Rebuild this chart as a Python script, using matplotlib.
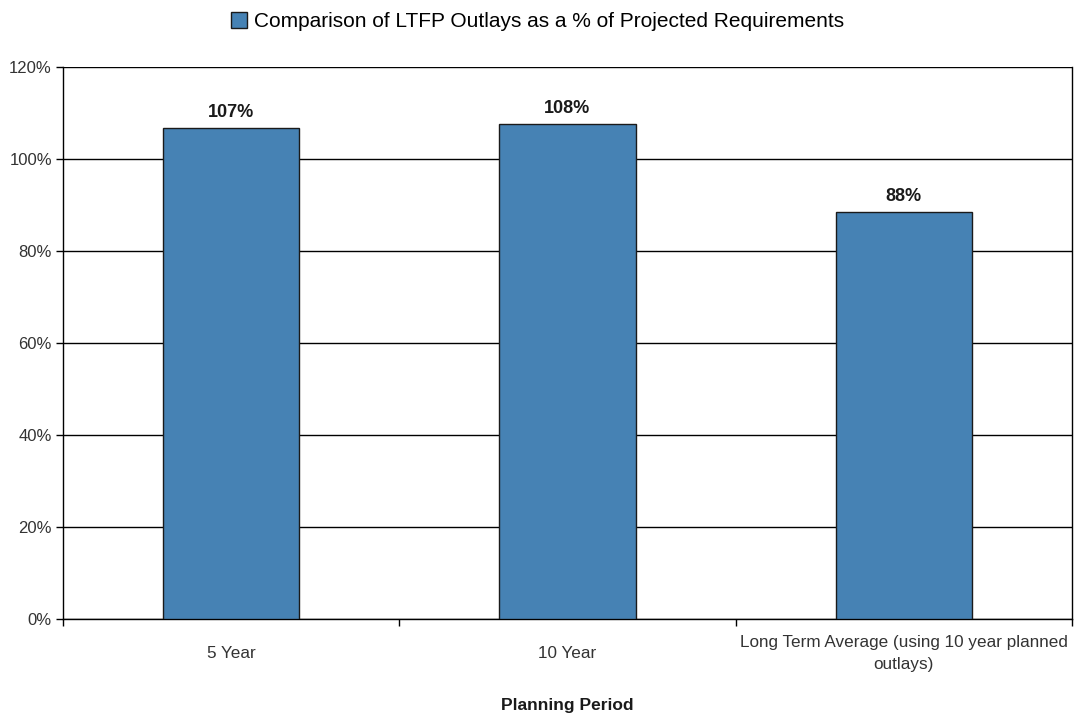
import numpy as np
import matplotlib.pyplot as plt
from matplotlib.ticker import FixedLocator, PercentFormatter

plt.rcParams['font.family'] = ['Liberation Sans', 'DejaVu Sans']

categories = ["5 Year", "10 Year", "Long Term Average (using 10 year planned\noutlays)"]
values = [106.7, 107.6, 88.4]
labels = ["107%", "108%", "88%"]
series_name = "Comparison of LTFP Outlays as a % of Projected Requirements"

fig = plt.figure(figsize=(10.75, 7.15), dpi=100)
ax = fig.add_axes([0.0586, 0.1343, 0.9386, 0.772])

x = np.arange(len(categories))
bars = ax.bar(x, values, width=0.405, color="#4682B4", edgecolor="#1a1a1a",
              linewidth=1.0, label=series_name, zorder=3)

for b, lab in zip(bars, labels):
    ax.text(b.get_x() + b.get_width() / 2, b.get_height() + 1.6, lab,
            ha="center", va="bottom", fontsize=13, fontweight="bold", color="#1a1a1a")

ax.set_xlim(-0.5, len(categories) - 0.5)
ax.set_ylim(0, 120)
ax.set_yticks(np.arange(0, 121, 20))
ax.yaxis.set_major_formatter(PercentFormatter(decimals=0))
ax.yaxis.grid(True, color="black", linewidth=1.0, zorder=0)

ax.set_xticks(x)
ax.set_xticklabels(categories, fontsize=12.3, color="#333333", linespacing=1.55,
                   va="center")
ax.xaxis.set_minor_locator(FixedLocator(np.arange(-0.5, len(categories), 1.0)))
ax.tick_params(axis="x", which="major", length=0, pad=25)
ax.tick_params(axis="x", which="minor", length=5, width=1, direction="out")
ax.tick_params(axis="y", length=5, width=1, direction="out", labelsize=12,
               labelcolor="#333333", pad=3)

for side in ["left", "bottom", "right", "top"]:
    ax.spines[side].set_linewidth(1.0)
    ax.spines[side].set_color("black")
ax.spines["top"].set_visible(False)

ax.set_xlabel("Planning Period", fontsize=12.5, fontweight="bold", labelpad=19, color="#1a1a1a")

fig.legend(handles=[bars], labels=[series_name], loc="upper center",
           bbox_to_anchor=(0.5, 1.009), frameon=False, fontsize=15,
           handlelength=0.75, handleheight=0.75, handletextpad=0.35)

fig.savefig("out.png", dpi=100)
